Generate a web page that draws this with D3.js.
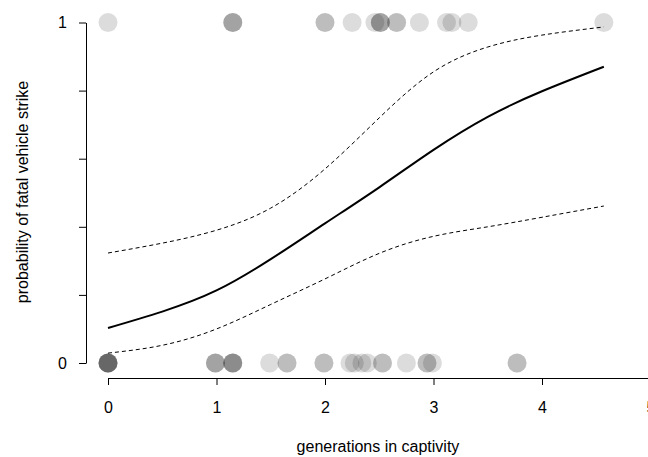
<!DOCTYPE html>
<html>
<head>
<meta charset="utf-8">
<script src="https://cdn.jsdelivr.net/npm/d3@7"></script>
<style>
  body { margin: 0; background: #fff; }
  text { font-family: "Liberation Sans", Arial, sans-serif; }
</style>
</head>
<body>
<div id="chart"></div>
<script>
// observed outcomes: generations in captivity for strikes (1) and non-strikes (0)
var struckGen = [0, 1.15, 1.15, 1.15, 2.0, 2.0, 2.25, 2.46, 2.51, 2.51, 2.51, 2.66, 2.66,
                 2.87, 3.12, 3.17, 3.32, 4.57];
var survivedGen = [0, 0, 0, 0, 0, 0, 0.99, 0.99, 0.99, 1.15, 1.15, 1.15, 1.15, 1.49,
                   1.65, 1.65, 1.99, 1.99, 2.23, 2.27, 2.34, 2.39, 2.53, 2.53, 2.75,
                   2.94, 2.94, 2.99, 3.77, 3.77];

// fitted probability and confidence band
var curveGen = [0, 0.5, 1, 1.5, 2, 2.5, 3, 3.5, 4, 4.57];
var fitProb   = [0.103, 0.151, 0.213, 0.305, 0.41, 0.516, 0.626, 0.723, 0.798, 0.87];
var upperProb = [0.323, 0.352, 0.39, 0.455, 0.57, 0.72, 0.855, 0.928, 0.963, 0.987];
var lowerProb = [0.029, 0.052, 0.10, 0.172, 0.247, 0.322, 0.372, 0.40, 0.428, 0.461];

var xTicks = [0, 1, 2, 3, 4, 5];
var yTicks = [0, 0.2, 0.4, 0.6, 0.8, 1];

var W = 648, H = 457;

var svg = d3.select("#chart").append("svg")
    .attr("width", W)
    .attr("height", H);

var x = d3.scaleLinear().domain([0, 5]).range([108, 650.5]);
var y = d3.scaleLinear().domain([0, 1]).range([363, 22.5]);

// points
var pts = struckGen.map(function(g) { return {g: g, v: 1}; })
  .concat(survivedGen.map(function(g) { return {g: g, v: 0}; }));

svg.append("g").selectAll("circle")
    .data(pts)
  .enter().append("circle")
    .attr("cx", function(d) { return x(d.g); })
    .attr("cy", function(d) { return y(d.v); })
    .attr("r", 9.5)
    .attr("fill", "#000")
    .attr("fill-opacity", 0.137);

// curves
function band(vals) {
  return curveGen.map(function(g, i) { return [g, vals[i]]; });
}
var line = d3.line()
    .x(function(d) { return x(d[0]); })
    .y(function(d) { return y(d[1]); })
    .curve(d3.curveNatural);

svg.append("path")
    .attr("d", line(band(fitProb)))
    .attr("fill", "none")
    .attr("stroke", "#000")
    .attr("stroke-width", 2);

[upperProb, lowerProb].forEach(function(v) {
  svg.append("path")
      .attr("d", line(band(v)))
      .attr("fill", "none")
      .attr("stroke", "#000")
      .attr("stroke-width", 1)
      .attr("stroke-dasharray", "4,3");
});

// axes
var xAxis = svg.append("g")
    .attr("transform", "translate(0,378)")
    .call(d3.axisBottom(x).tickValues(xTicks).tickSize(7).tickSizeOuter(0).tickPadding(17)
      .tickFormat(d3.format("d")));

var yAxis = svg.append("g")
    .attr("transform", "translate(86,0)")
    .call(d3.axisLeft(y).tickValues(yTicks).tickSize(7).tickSizeOuter(0).tickPadding(12)
      .tickFormat(function(d) { return (d === 0 || d === 1) ? d : ""; }));

[xAxis, yAxis].forEach(function(a) {
  a.selectAll("path, line").attr("stroke", "#000").attr("stroke-width", 1);
  a.selectAll("text").attr("fill", "#000").style("font-size", "16px");
});

svg.append("text")
    .attr("x", 378)
    .attr("y", 452)
    .attr("text-anchor", "middle")
    .style("font-size", "16px")
    .text("generations in captivity");

svg.append("text")
    .attr("transform", "translate(28,192) rotate(-90)")
    .attr("text-anchor", "middle")
    .style("font-size", "16px")
    .text("probability of fatal vehicle strike");
</script>
</body>
</html>
